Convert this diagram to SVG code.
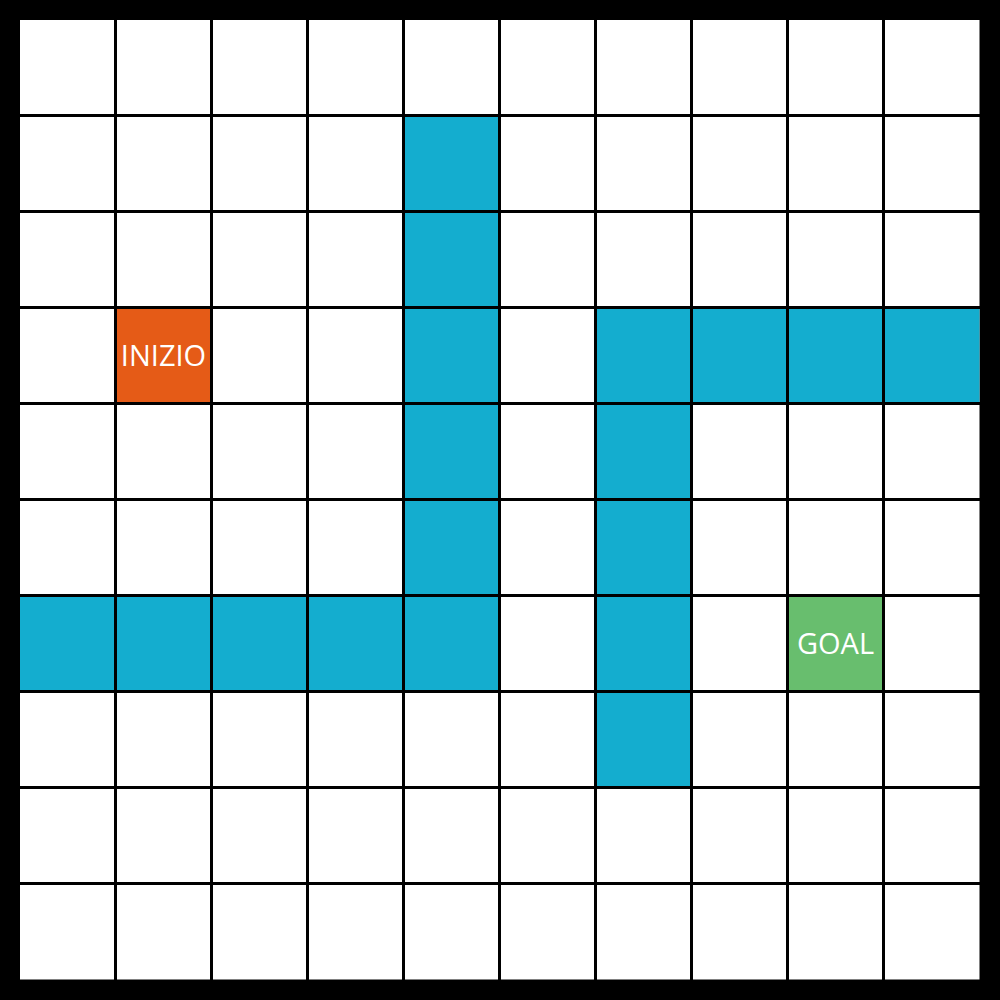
<svg xmlns="http://www.w3.org/2000/svg" width="1000" height="1000" viewBox="0 0 1000 1000">
<style>
.b{fill:#14ADCF}
.o{fill:#E55B17}
.g{fill:#68BE6E}
.l{stroke:#000;stroke-width:3;fill:none}
.t{font-family:"Open Sans","Noto Sans",sans-serif;font-size:29px;fill:#fff;text-anchor:middle}
</style>
<rect x="0" y="0" width="1000" height="1000" fill="#000"/>
<rect x="20" y="20" width="959.5" height="959.5" fill="#fff"/>
<g id="walls">
<rect class="b" x="403.5" y="115.5" width="96" height="576"/>
<rect class="b" x="595.5" y="307.5" width="384" height="96"/>
<rect class="b" x="595.5" y="307.5" width="96" height="480"/>
<rect class="b" x="20" y="595.5" width="479.5" height="96"/>
</g>
<g id="start">
<rect class="o" x="115.5" y="307.5" width="96" height="96"/>
<text class="t" x="163.5" y="366">INIZIO</text>
</g>
<g id="goal">
<rect class="g" x="787.5" y="595.5" width="96" height="96"/>
<text class="t" x="835.5" y="654">GOAL</text>
</g>
<g id="grid" class="l">
<path d="M115.5 20V980M211.5 20V980M307.5 20V980M403.5 20V980M499.5 20V980M595.5 20V980M691.5 20V980M787.5 20V980M883.5 20V980"/>
<path d="M20 115.5H980M20 211.5H980M20 307.5H980M20 403.5H980M20 499.5H980M20 595.5H980M20 691.5H980M20 787.5H980M20 883.5H980"/>
</g>
</svg>
